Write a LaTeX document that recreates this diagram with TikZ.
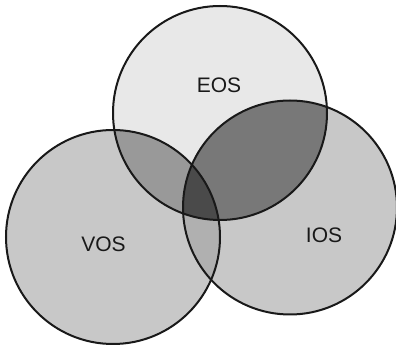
\documentclass[tikz,border=0pt]{standalone}
\usepackage{fontspec}
\setmainfont{Liberation Sans}
\begin{document}
\begin{tikzpicture}[x=1pt,y=1pt,
  ring/.style={draw=black!90,line width=2pt},
  lbl/.style={font=\fontsize{21}{24}\selectfont,text=black!90,inner sep=0pt}]
\useasboundingbox (0,0) rectangle (396,345);
\def\R{107}
\coordinate (E) at (220,232);
\coordinate (V) at (113,108);
\coordinate (I) at (290,137.5);
% single regions
\fill[black!9] (E) circle (\R);
\fill[black!21.5] (V) circle (\R);
\fill[black!21.5] (I) circle (\R);
% pairwise
\begin{scope}\clip (E) circle (\R); \fill[black!40] (V) circle (\R);\end{scope}
\begin{scope}\clip (E) circle (\R); \fill[black!53] (I) circle (\R);\end{scope}
\begin{scope}\clip (V) circle (\R); \fill[black!31] (I) circle (\R);\end{scope}
% triple
\begin{scope}\clip (E) circle (\R); \clip (V) circle (\R); \fill[black!71] (I) circle (\R);\end{scope}
% outlines
\draw[ring] (E) circle (\R);
\draw[ring] (V) circle (\R);
\draw[ring] (I) circle (\R);
\node[lbl] (eos) at (219,260) {EOS};
\node[lbl] (vos) at (103.5,101) {VOS};
\node[lbl] (ios) at (324,110) {IOS};
\end{tikzpicture}
\end{document}
